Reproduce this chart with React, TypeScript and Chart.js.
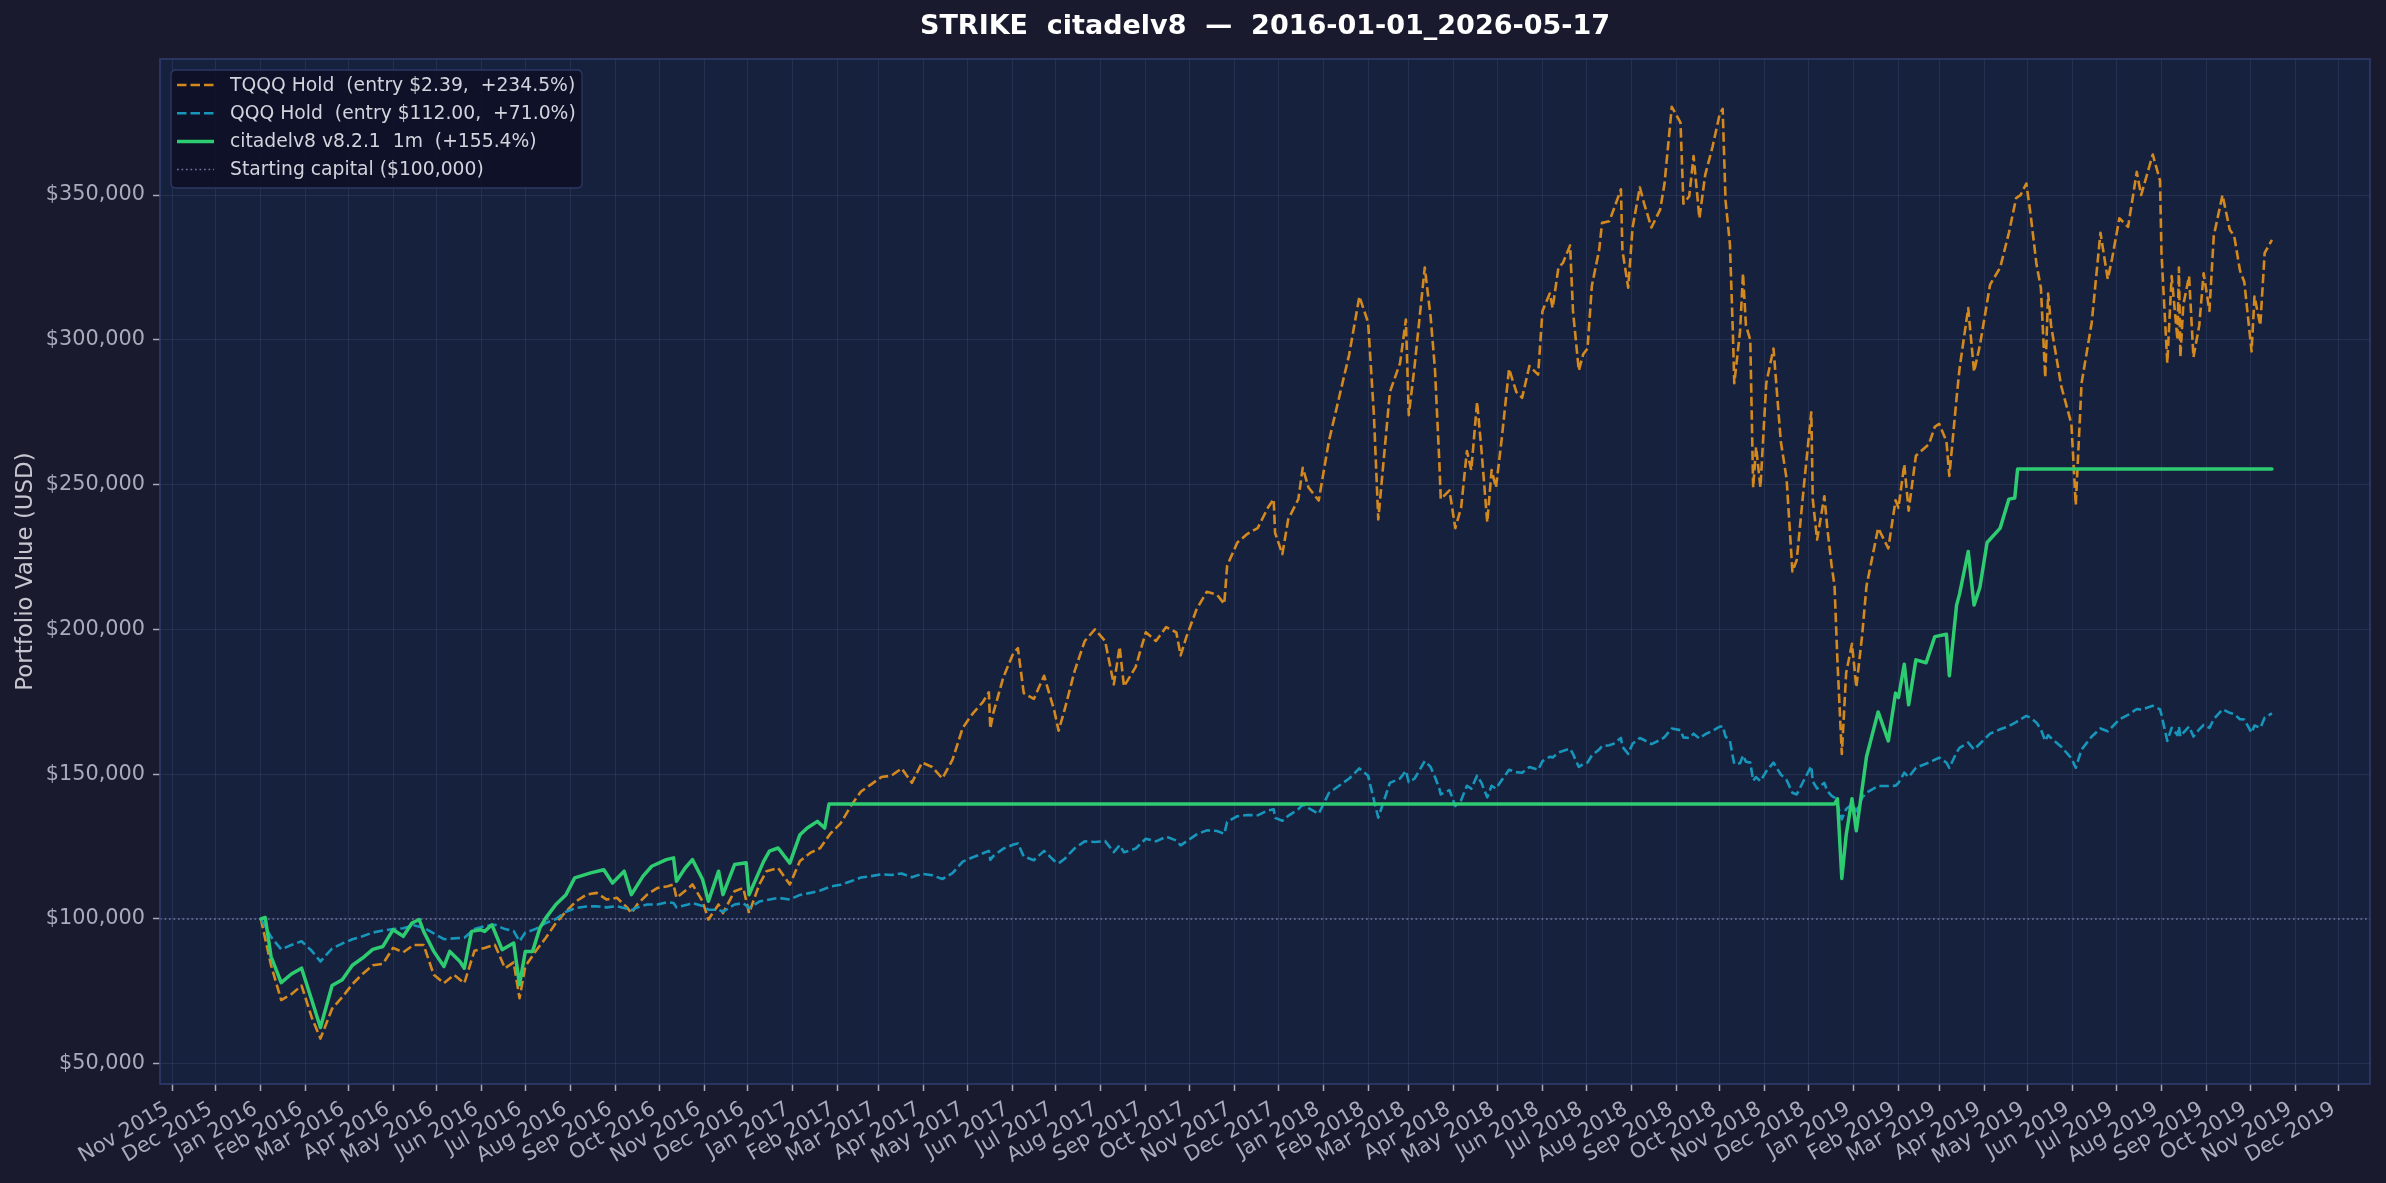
import React, { useEffect, useRef } from 'react';
import { Chart, registerables } from 'chart.js';

Chart.register(...registerables);

// ---------------- text ----------------
const chartTitle = 'STRIKE  citadelv8  —  2016-01-01_2026-05-17';
const yAxisTitle = 'Portfolio Value (USD)';
const legendLabels = [
  'TQQQ Hold  (entry $2.39,  +234.5%)',
  'QQQ Hold  (entry $112.00,  +71.0%)',
  'citadelv8 v8.2.1  1m  (+155.4%)',
  'Starting capital ($100,000)',
];

const xTickLabels = [
  'Nov 2015', 'Dec 2015',
  'Jan 2016', 'Feb 2016', 'Mar 2016', 'Apr 2016', 'May 2016', 'Jun 2016', 'Jul 2016', 'Aug 2016', 'Sep 2016', 'Oct 2016', 'Nov 2016', 'Dec 2016',
  'Jan 2017', 'Feb 2017', 'Mar 2017', 'Apr 2017', 'May 2017', 'Jun 2017', 'Jul 2017', 'Aug 2017', 'Sep 2017', 'Oct 2017', 'Nov 2017', 'Dec 2017',
  'Jan 2018', 'Feb 2018', 'Mar 2018', 'Apr 2018', 'May 2018', 'Jun 2018', 'Jul 2018', 'Aug 2018', 'Sep 2018', 'Oct 2018', 'Nov 2018', 'Dec 2018',
  'Jan 2019', 'Feb 2019', 'Mar 2019', 'Apr 2019', 'May 2019', 'Jun 2019', 'Jul 2019', 'Aug 2019', 'Sep 2019', 'Oct 2019', 'Nov 2019', 'Dec 2019',
];
const yTickValues = [50000, 100000, 150000, 200000, 250000, 300000, 350000];
const startingCapital = 100000;

// ---------------- data: buy & hold (shared dates) ----------------
const holdDates = [
  // 2016
  '2016-01-01', '2016-01-08', '2016-01-15', '2016-01-22', '2016-01-29',
  '2016-02-05', '2016-02-11', '2016-02-19', '2016-02-26',
  '2016-03-04', '2016-03-11', '2016-03-18', '2016-03-25',
  '2016-04-01', '2016-04-08', '2016-04-15', '2016-04-22', '2016-04-29',
  '2016-05-06', '2016-05-13', '2016-05-20', '2016-05-27',
  '2016-06-03', '2016-06-10', '2016-06-17', '2016-06-23', '2016-06-27',
  '2016-07-01', '2016-07-08', '2016-07-15', '2016-07-22', '2016-07-29',
  '2016-08-05', '2016-08-12', '2016-08-19', '2016-08-26',
  '2016-09-02', '2016-09-09', '2016-09-12', '2016-09-16', '2016-09-23', '2016-09-30',
  '2016-10-07', '2016-10-11', '2016-10-13', '2016-10-21', '2016-10-24', '2016-10-31',
  '2016-11-04', '2016-11-11', '2016-11-14', '2016-11-22', '2016-11-28',
  '2016-12-02', '2016-12-09', '2016-12-14', '2016-12-22', '2016-12-30',
  // 2017
  '2017-01-06', '2017-01-13', '2017-01-20', '2017-01-27',
  '2017-02-03', '2017-02-10', '2017-02-17', '2017-02-24',
  '2017-03-03', '2017-03-10', '2017-03-17', '2017-03-24', '2017-03-31',
  '2017-04-07', '2017-04-14', '2017-04-21', '2017-04-28',
  '2017-05-05', '2017-05-12', '2017-05-16', '2017-05-17', '2017-05-19', '2017-05-26',
  '2017-06-02', '2017-06-05', '2017-06-09', '2017-06-16', '2017-06-23', '2017-06-30',
  '2017-07-03', '2017-07-07', '2017-07-14', '2017-07-21', '2017-07-28',
  '2017-08-04', '2017-08-10', '2017-08-14', '2017-08-17', '2017-08-25',
  '2017-09-01', '2017-09-08', '2017-09-15', '2017-09-22', '2017-09-25', '2017-09-29',
  '2017-10-06', '2017-10-13', '2017-10-20', '2017-10-25', '2017-10-27',
  '2017-11-03', '2017-11-10', '2017-11-17', '2017-11-24', '2017-11-28', '2017-11-29',
  '2017-12-04', '2017-12-08', '2017-12-15', '2017-12-18', '2017-12-22', '2017-12-29',
  // 2018
  '2018-01-05', '2018-01-12', '2018-01-19', '2018-01-26',
  '2018-02-01', '2018-02-05', '2018-02-08', '2018-02-16', '2018-02-23', '2018-02-27',
  '2018-03-01', '2018-03-05', '2018-03-12', '2018-03-16', '2018-03-19', '2018-03-22', '2018-03-23', '2018-03-29',
  '2018-04-02', '2018-04-06', '2018-04-10', '2018-04-13', '2018-04-17', '2018-04-20', '2018-04-24', '2018-04-27', '2018-04-30',
  '2018-05-04', '2018-05-09', '2018-05-14', '2018-05-18', '2018-05-23', '2018-05-29',
  '2018-06-01', '2018-06-06', '2018-06-08', '2018-06-12', '2018-06-15', '2018-06-20', '2018-06-22', '2018-06-26', '2018-06-29',
  '2018-07-02', '2018-07-05', '2018-07-10', '2018-07-12', '2018-07-17', '2018-07-20', '2018-07-25', '2018-07-26', '2018-07-30',
  '2018-08-02', '2018-08-07', '2018-08-10', '2018-08-15', '2018-08-21', '2018-08-24', '2018-08-29',
  '2018-09-04', '2018-09-06', '2018-09-10', '2018-09-13', '2018-09-17', '2018-09-21', '2018-09-26',
  '2018-10-01', '2018-10-03', '2018-10-05', '2018-10-08', '2018-10-10', '2018-10-11', '2018-10-15', '2018-10-17', '2018-10-19', '2018-10-22', '2018-10-24', '2018-10-26', '2018-10-29',
  '2018-11-02', '2018-11-07', '2018-11-12', '2018-11-16', '2018-11-20', '2018-11-23', '2018-11-28',
  '2018-12-03', '2018-12-04', '2018-12-07', '2018-12-12', '2018-12-14', '2018-12-17', '2018-12-19', '2018-12-21', '2018-12-24', '2018-12-27', '2018-12-31',
  // 2019
  '2019-01-03', '2019-01-07', '2019-01-10', '2019-01-18', '2019-01-25', '2019-01-30',
  '2019-02-01', '2019-02-05', '2019-02-08', '2019-02-13', '2019-02-22', '2019-02-26',
  '2019-03-01', '2019-03-06', '2019-03-08', '2019-03-13', '2019-03-15', '2019-03-21', '2019-03-25', '2019-03-29',
  '2019-04-05', '2019-04-12', '2019-04-18', '2019-04-23', '2019-04-26', '2019-04-30',
  '2019-05-03', '2019-05-07', '2019-05-10', '2019-05-13', '2019-05-15', '2019-05-17', '2019-05-24', '2019-05-31',
  '2019-06-03', '2019-06-07', '2019-06-14', '2019-06-20', '2019-06-25', '2019-06-28',
  '2019-07-03', '2019-07-09', '2019-07-15', '2019-07-18', '2019-07-26', '2019-07-31',
  '2019-08-01', '2019-08-05', '2019-08-08', '2019-08-12', '2019-08-13', '2019-08-14', '2019-08-16', '2019-08-20', '2019-08-23', '2019-08-27', '2019-08-30',
  '2019-09-03', '2019-09-06', '2019-09-12', '2019-09-17', '2019-09-20', '2019-09-24', '2019-09-27',
  '2019-10-02', '2019-10-04', '2019-10-08', '2019-10-11', '2019-10-16',
];

const tqqqValues = [
  // 2016
  100000, 84000, 72000, 74000, 77000,
  66000, 58700, 69000, 73000,
  77500, 81000, 84000, 84500,
  90000, 88500, 91000, 91000, 80700,
  77800, 80700, 77800, 89000,
  90000, 91100, 83000, 85000, 72600,
  83600, 88800, 93400, 98600, 102600,
  106100, 108400, 109000, 106700,
  107300, 104000, 102000, 105000, 108500, 110700,
  111300, 111900, 107300, 110500, 111900, 106100,
  99800, 105000, 102000, 109600, 110700,
  102000, 111900, 116500, 117600, 111900,
  // 2017
  120000, 122800, 124500, 129500,
  133000, 139000, 144000, 146500,
  149000, 149500, 152000, 147000, 154000,
  152500, 148500, 155000, 166000,
  171000, 175000, 178300, 165700, 171000, 183500,
  192000, 193500, 178000, 176000, 184000, 172000,
  165000, 172000, 185600, 196000, 200000,
  196000, 181000, 194000, 180300, 187000,
  199000, 196000, 200800, 199000, 191000, 197500,
  207000, 213000, 212000, 208800, 222000,
  230000, 233000, 235000, 242000, 245000, 233300,
  226000, 238000, 245000, 255800, 249000, 244500,
  // 2018
  265000, 280000, 295000, 315000,
  306000, 274000, 238000, 282000, 292000, 307000,
  274000, 291000, 325000, 308000, 290000, 258000, 245000, 248000,
  235000, 242000, 261600, 255000, 278600, 262000, 237000, 255000, 249000,
  266000, 290000, 282000, 280000, 291000, 288000,
  310000, 316000, 311000, 325000, 326500, 332600, 310000, 289400, 295000,
  297000, 318700, 331000, 340400, 341000, 345000, 352000, 331000, 318000,
  338800, 352700, 347000, 338800, 345000, 354000, 380500,
  375000, 347000, 349600, 363500, 342000, 357000, 366600,
  378000, 379800, 348000, 333000, 303000, 285000, 303000, 323000, 305000, 300000, 249000, 263000, 249000,
  285000, 297000, 265000, 252000, 220000, 224000, 250000,
  275000, 245000, 231000, 246000, 235000, 222000, 215000, 189000, 157000, 185000, 195000,
  // 2019
  180000, 198000, 215000, 235000, 228000, 244600,
  242000, 257000, 241000, 260000, 264000, 270000,
  271000, 265000, 253000, 280000, 290000, 311000, 289000, 298000,
  319000, 325000, 337000, 349000, 350000, 354000,
  343000, 326000, 318000, 287000, 316000, 305000, 284000, 271000,
  243000, 285000, 306000, 337000, 321000, 328000,
  342000, 339000, 358000, 350000, 364000, 355000,
  330000, 292000, 322000, 300000, 325000, 294000, 312000, 322000, 294000, 305000, 323000,
  310000, 336000, 350000, 338000, 336000, 324000, 320000,
  296000, 315000, 305000, 330000, 334500,
];

const qqqValues = [
  // 2016
  100000, 93800, 89500, 91000, 92300,
  89000, 85300, 89800, 91500,
  93000, 94000, 95300, 96000,
  96500, 96800, 97800, 97000, 95000,
  93000, 93300, 93500, 96500,
  97500, 98000, 96500, 95800, 92300,
  95300, 96500, 98600, 100000, 102500,
  103800, 104300, 104400, 104000,
  104400, 103500, 103000, 104000, 105000, 105000,
  105800, 105500, 104000, 105000, 105500, 104500,
  103200, 103200, 102500, 105000, 105500,
  103800, 106000, 106500, 107300, 106700,
  // 2017
  108300, 109000, 109800, 111200,
  111800, 113000, 114300, 114800,
  115400, 115200, 115700, 114400, 115600,
  115100, 113800, 115800, 119800,
  121300, 122700, 123500, 120400, 121700, 124300,
  125700, 126100, 121600, 120300, 123500, 120100,
  119200, 120700, 124400, 126800, 126600,
  126900, 123100, 125500, 123000, 124300,
  127700, 126800, 128400, 127100, 125400, 126800,
  129200, 130600, 130400, 129400, 133500,
  135500, 135900, 135800, 137500, 137900, 134900,
  133900, 135600, 137900, 139500, 138300, 136300,
  // 2018
  143500, 146000, 148500, 152000,
  149500, 141000, 135000, 147000, 148500, 151200,
  147200, 148500, 154500, 152500, 149000, 145000, 143000, 144500,
  139000, 141000, 146000, 145000, 149500, 147000, 142000, 146000, 145000,
  148000, 151500, 150700, 150500, 152500, 151500,
  154500, 156000, 155800, 157500, 158000, 158800, 157000, 152500, 153500,
  154000, 156500, 158500, 159700, 160000, 160500, 162500, 159500, 157000,
  160500, 162500, 161800, 160400, 161800, 162800, 165800,
  165200, 162700, 162500, 164000, 162300, 163800, 165000,
  166400, 166600, 163000, 161500, 156000, 153500, 153800, 156500, 154300, 154000, 147800, 149000, 147600,
  151000, 154000, 149900, 148000, 143600, 143000, 148000,
  152800, 147500, 145000, 147000, 144200, 142500, 141900, 139600, 134400, 138000, 139600,
  // 2019
  137200, 141900, 143600, 145900, 145900, 146000,
  147000, 150500, 149000, 152200, 154000, 155000,
  155700, 154000, 152200, 157500, 159100, 160900, 158500, 160500,
  164000, 165500, 166600, 168000, 169000, 170100,
  169500, 167800, 165500, 161500, 163500, 162500, 159500, 155500,
  152200, 158500, 163000, 165800, 164800, 166300,
  168900, 170500, 172500, 172300, 173600, 172400,
  170500, 161500, 166000, 163500, 166500, 163000, 164300, 166500, 163000, 165500, 167000,
  166000, 169000, 172400, 171200, 170700, 169000, 168900,
  164300, 166800, 166000, 169500, 171000,
];

// ---------------- data: strategy ----------------
const strategyDates = [
  '2016-01-01', '2016-01-04', '2016-01-08', '2016-01-15', '2016-01-22', '2016-01-29',
  '2016-02-05', '2016-02-11', '2016-02-19', '2016-02-26',
  '2016-03-04', '2016-03-11', '2016-03-18', '2016-03-25',
  '2016-04-01', '2016-04-08', '2016-04-14', '2016-04-19', '2016-04-22', '2016-04-29',
  '2016-05-06', '2016-05-10', '2016-05-17', '2016-05-20', '2016-05-25', '2016-05-31',
  '2016-06-03', '2016-06-08', '2016-06-15', '2016-06-23', '2016-06-27',
  '2016-07-01', '2016-07-06', '2016-07-11', '2016-07-15', '2016-07-22', '2016-07-29',
  '2016-08-04', '2016-08-15', '2016-08-24', '2016-08-30',
  '2016-09-07', '2016-09-12', '2016-09-20', '2016-09-26',
  '2016-10-06', '2016-10-11', '2016-10-13', '2016-10-19', '2016-10-24', '2016-10-31',
  '2016-11-04', '2016-11-11', '2016-11-14', '2016-11-22', '2016-11-30',
  '2016-12-02', '2016-12-12', '2016-12-16', '2016-12-22', '2016-12-30',
  '2017-01-06', '2017-01-11', '2017-01-18', '2017-01-23', '2017-01-26',
  '2018-12-19', '2018-12-21', '2018-12-24', '2018-12-27', '2018-12-31',
  '2019-01-03', '2019-01-07', '2019-01-10', '2019-01-18', '2019-01-25', '2019-01-30',
  '2019-02-01', '2019-02-05', '2019-02-08', '2019-02-13', '2019-02-20', '2019-02-26',
  '2019-03-06', '2019-03-08', '2019-03-13', '2019-03-15', '2019-03-21', '2019-03-25', '2019-03-29',
  '2019-04-03', '2019-04-12', '2019-04-18', '2019-04-22', '2019-04-24',
  '2019-10-16',
];
const strategyValues = [
  100000, 100500, 87000, 78000, 81000, 83000,
  72000, 62500, 77000, 79000,
  84000, 86500, 89500, 90500,
  96300, 94000, 98600, 99800, 95700, 88800,
  83600, 88800, 85300, 83000, 95700, 96300,
  95700, 98000, 89400, 91700, 77300,
  88800, 88800, 96900, 100300, 105000, 108400,
  114200, 115900, 117000, 112400,
  116500, 108400, 114800, 118200,
  120500, 121100, 113000, 117600, 120500, 113600,
  106100, 116500, 108400, 118800, 119400,
  108400, 119900, 123400, 124500, 119300,
  129100, 131400, 133700, 131400, 139700,
  139700, 141500, 114000, 129000, 141500,
  130500, 145000, 156000, 171500, 161500, 178000,
  176500, 188000, 174000, 189500, 188500, 197500,
  198300, 184000, 208400, 212200, 226900, 208400, 214500,
  230000, 235000, 245000, 245400, 255400,
  255400,
];

// ---------------- style ----------------
const W = 2386;
const H = 1183;
const FONT = '"DejaVu Sans", Verdana, sans-serif';
const FIG_BG = '#1a1a2e';
const AX_BG = '#16213e';
const SPINE = '#2f3b6c';
const GRID = 'rgba(150,160,220,0.12)';
const TICK_TEXT = '#a9aaba';
const TICK_FONT_SIZE = 20.8;
const TQQQ_COLOR = '#d4891e';
const QQQ_COLOR = '#1796bb';
const STRAT_COLOR = '#2ecc71';
const CAP_COLOR = '#74749f';
const DASH = [9.5, 4];
const CAP_DASH = [1.7, 2.8];

const MONTHS = ['Jan', 'Feb', 'Mar', 'Apr', 'May', 'Jun', 'Jul', 'Aug', 'Sep', 'Oct', 'Nov', 'Dec'];
const toTs = (s: string) => {
  const [y, m, d] = s.split('-').map(Number);
  return Date.UTC(y, m - 1, d);
};
const monthLabelTs = (l: string) => {
  const [m, y] = l.split(' ');
  return Date.UTC(Number(y), MONTHS.indexOf(m), 1);
};
const X_MIN = Date.UTC(2015, 9, 23, 14);
const X_MAX = Date.UTC(2019, 11, 22, 12);
const Y_MIN = 43000;
const Y_MAX = 397000;

const pairs = (dates: string[], vals: number[]) => {
  const n = Math.min(dates.length, vals.length);
  const out: { x: number; y: number }[] = [];
  for (let i = 0; i < n; i++) out.push({ x: toTs(dates[i]), y: vals[i] });
  return out;
};

const bgPlugin = {
  id: 'bgPlugin',
  beforeDraw(chart: any) {
    const { ctx, chartArea: a, width, height } = chart;
    ctx.save();
    ctx.fillStyle = FIG_BG;
    ctx.fillRect(0, 0, width, height);
    ctx.fillStyle = AX_BG;
    ctx.fillRect(a.left, a.top, a.right - a.left, a.bottom - a.top);
    ctx.restore();
  },
};

const framePlugin = {
  id: 'framePlugin',
  afterDatasetsDraw(chart: any) {
    const { ctx, chartArea: a } = chart;
    ctx.save();
    ctx.strokeStyle = SPINE;
    ctx.lineWidth = 1.6;
    ctx.strokeRect(a.left, a.top, a.right - a.left, a.bottom - a.top);
    ctx.restore();
  },
};

const legendEntries = [
  { label: legendLabels[0], color: TQQQ_COLOR, width: 2.6, dash: DASH },
  { label: legendLabels[1], color: QQQ_COLOR, width: 2.6, dash: DASH },
  { label: legendLabels[2], color: STRAT_COLOR, width: 3.5, dash: [] as number[] },
  { label: legendLabels[3], color: CAP_COLOR, width: 1.5, dash: CAP_DASH },
];

const legendPlugin = {
  id: 'legendPlugin',
  afterDraw(chart: any) {
    const { ctx } = chart;
    const x0 = 171, y0 = 70, w = 411, h = 118, r = 5;
    ctx.save();
    ctx.beginPath();
    ctx.moveTo(x0 + r, y0);
    ctx.lineTo(x0 + w - r, y0);
    ctx.quadraticCurveTo(x0 + w, y0, x0 + w, y0 + r);
    ctx.lineTo(x0 + w, y0 + h - r);
    ctx.quadraticCurveTo(x0 + w, y0 + h, x0 + w - r, y0 + h);
    ctx.lineTo(x0 + r, y0 + h);
    ctx.quadraticCurveTo(x0, y0 + h, x0, y0 + h - r);
    ctx.lineTo(x0, y0 + r);
    ctx.quadraticCurveTo(x0, y0, x0 + r, y0);
    ctx.closePath();
    ctx.fillStyle = 'rgba(14,15,36,0.88)';
    ctx.fill();
    ctx.strokeStyle = '#2e3866';
    ctx.lineWidth = 1.3;
    ctx.stroke();
    legendEntries.forEach((e, i) => {
      const cy = 85 + i * 28.2;
      ctx.strokeStyle = e.color;
      ctx.lineWidth = e.width;
      ctx.setLineDash(e.dash);
      ctx.beginPath();
      ctx.moveTo(177, cy);
      ctx.lineTo(214, cy);
      ctx.stroke();
      ctx.setLineDash([]);
      ctx.fillStyle = '#d2d3dc';
      ctx.font = `18.75px ${FONT}`;
      ctx.textAlign = 'left';
      ctx.textBaseline = 'middle';
      ctx.fillText(e.label, 230, cy + 1);
    });
    ctx.restore();
  },
};

const titlePlugin = {
  id: 'titlePlugin',
  afterDraw(chart: any) {
    const { ctx, chartArea: a } = chart;
    ctx.save();
    ctx.fillStyle = '#ffffff';
    ctx.font = `bold 27px ${FONT}`;
    ctx.textAlign = 'center';
    ctx.textBaseline = 'middle';
    ctx.fillText(chartTitle, (a.left + a.right) / 2, 27);
    ctx.restore();
  },
};

export default function App() {
  const ref = useRef<HTMLCanvasElement>(null);

  useEffect(() => {
    const canvas = ref.current;
    if (!canvas) return;
    Chart.defaults.font.family = FONT;

    const chart = new Chart(canvas, {
      type: 'line',
      data: {
        datasets: [
          {
            label: legendLabels[2],
            data: pairs(strategyDates, strategyValues),
            borderColor: STRAT_COLOR,
            backgroundColor: STRAT_COLOR,
            borderWidth: 3.5,
            pointRadius: 0,
            tension: 0,
            borderJoinStyle: 'round',
            borderCapStyle: 'round',
          },
          {
            label: legendLabels[1],
            data: pairs(holdDates, qqqValues),
            borderColor: QQQ_COLOR,
            backgroundColor: QQQ_COLOR,
            borderWidth: 2.6,
            borderDash: DASH,
            pointRadius: 0,
            tension: 0,
            borderJoinStyle: 'round',
          },
          {
            label: legendLabels[0],
            data: pairs(holdDates, tqqqValues),
            borderColor: TQQQ_COLOR,
            backgroundColor: TQQQ_COLOR,
            borderWidth: 2.6,
            borderDash: DASH,
            pointRadius: 0,
            tension: 0,
            borderJoinStyle: 'round',
          },
          {
            label: legendLabels[3],
            data: [
              { x: X_MIN, y: startingCapital },
              { x: X_MAX, y: startingCapital },
            ],
            borderColor: CAP_COLOR,
            borderWidth: 1.5,
            borderDash: CAP_DASH,
            pointRadius: 0,
            tension: 0,
          },
        ],
      },
      options: {
        responsive: false,
        animation: false,
        devicePixelRatio: 1,
        layout: { padding: { top: 59, right: 16, left: 0, bottom: 0 } },
        plugins: {
          legend: { display: false },
          title: { display: false },
          tooltip: { enabled: false },
        },
        scales: {
          x: {
            type: 'linear',
            min: X_MIN,
            max: X_MAX,
            afterBuildTicks: (s: any) => {
              s.ticks = xTickLabels.map((l) => ({ value: monthLabelTs(l) }));
            },
            afterFit: (s: any) => {
              s.height = 99;
            },
            ticks: {
              autoSkip: false,
              minRotation: 30,
              maxRotation: 30,
              padding: 6,
              labelOffset: -5,
              color: TICK_TEXT,
              font: { size: TICK_FONT_SIZE, family: FONT },
              callback: (_v: any, i: number) => xTickLabels[i],
            },
            grid: {
              color: GRID,
              lineWidth: 1,
              tickColor: TICK_TEXT,
              tickLength: 7,
              tickWidth: 1.5,
            },
            border: { display: false },
          },
          y: {
            type: 'linear',
            min: Y_MIN,
            max: Y_MAX,
            afterBuildTicks: (s: any) => {
              s.ticks = yTickValues.map((v) => ({ value: v }));
            },
            afterFit: (s: any) => {
              s.width = 160;
            },
            ticks: {
              padding: 8,
              color: TICK_TEXT,
              font: { size: TICK_FONT_SIZE, family: FONT },
              callback: (v: any) => '$' + Number(v).toLocaleString('en-US'),
            },
            title: {
              display: true,
              text: yAxisTitle,
              color: '#c6c6d0',
              font: { size: 22.9, family: FONT },
              padding: { top: 12, bottom: 0 },
            },
            grid: {
              color: GRID,
              lineWidth: 1,
              tickColor: TICK_TEXT,
              tickLength: 7,
              tickWidth: 1.5,
            },
            border: { display: false },
          },
        },
      } as any,
      plugins: [bgPlugin, framePlugin, legendPlugin, titlePlugin],
    });

    return () => chart.destroy();
  }, []);

  return (
    <div style={{ position: 'fixed', left: 0, top: 0, width: W, height: H, background: FIG_BG }}>
      <canvas ref={ref} width={W} height={H} style={{ display: 'block', width: W, height: H }} />
    </div>
  );
}
